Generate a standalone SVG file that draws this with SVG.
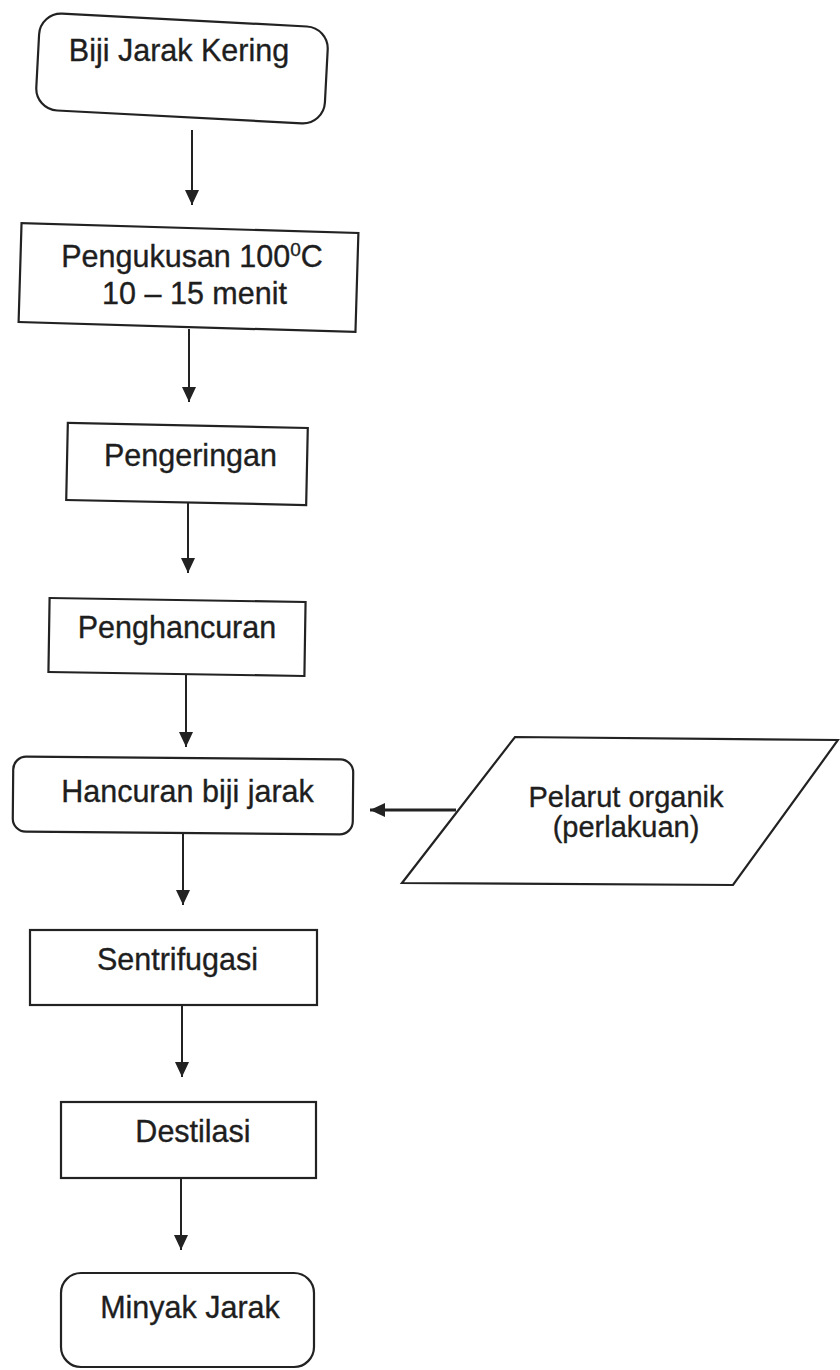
<svg xmlns="http://www.w3.org/2000/svg" width="840" height="1370" viewBox="0 0 840 1370">
<style>
.box{fill:#fff;stroke:#222;stroke-width:2.2}
.lbl{font-family:"Liberation Sans",Arial,sans-serif;font-size:30.5px;fill:#1e1e1e;stroke:#1e1e1e;stroke-width:0.35;text-anchor:middle}
.con{stroke:#222;stroke-width:2;fill:none;marker-end:url(#ah)}
</style>
<defs>
<marker id="ah" markerUnits="userSpaceOnUse" markerWidth="16" markerHeight="16" refX="15" refY="8" orient="auto">
<path d="M0,1 L15,8 L0,15 Z" fill="#222"/>
</marker>
</defs>
<rect width="840" height="1370" fill="#fff"/>
<g id="connectors">
<line class="con" x1="192" y1="130" x2="192" y2="205"/>
<line class="con" x1="189" y1="329" x2="189" y2="402"/>
<line class="con" x1="188" y1="503" x2="188" y2="573"/>
<line class="con" x1="186" y1="675" x2="186" y2="747"/>
<line class="con" x1="183" y1="833" x2="183" y2="905"/>
<line class="con" x1="182" y1="1005" x2="182" y2="1077"/>
<line class="con" x1="181" y1="1178" x2="181" y2="1250"/>
<line class="con" x1="456" y1="810" x2="370" y2="810" style="stroke-width:2.8"/>
</g>
<g id="n1">
<rect class="box" x="37.5" y="20" width="289" height="97" rx="22" transform="rotate(3 182 68.5)"/>
<text class="lbl" x="179" y="61">Biji Jarak Kering</text>
</g>
<g id="n2">
<rect class="box" x="20" y="228" width="337" height="99" transform="rotate(1.7 188.5 277.5)"/>
<text class="lbl" x="192" y="267">Pengukusan 100<tspan font-size="19" dy="-11">0</tspan><tspan dy="11">C</tspan></text>
<text class="lbl" x="194.5" y="304">10 – 15 menit</text>
</g>
<g id="n3">
<rect class="box" x="67" y="425.5" width="240" height="77" transform="rotate(1.2 187 464)"/>
<text class="lbl" x="190.5" y="466">Pengeringan</text>
</g>
<g id="n4">
<rect class="box" x="49" y="600" width="256" height="74" transform="rotate(0.9 177 637)"/>
<text class="lbl" x="177" y="638">Penghancuran</text>
</g>
<g id="n5">
<rect class="box" x="13" y="758" width="340" height="75" rx="13" transform="rotate(0.5 183 795)"/>
<text class="lbl" x="187.5" y="802">Hancuran biji jarak</text>
</g>
<g id="n6">
<polygon class="box" points="515,737 838,740 733,885 402,883"/>
<text class="lbl" x="626" y="807" style="font-size:29px">Pelarut organik</text>
<text class="lbl" x="626" y="837" style="font-size:29px">(perlakuan)</text>
</g>
<g id="n7">
<rect class="box" x="30" y="930" width="287" height="75"/>
<text class="lbl" x="177.5" y="970">Sentrifugasi</text>
</g>
<g id="n8">
<rect class="box" x="61" y="1102" width="255" height="76"/>
<text class="lbl" x="193" y="1142">Destilasi</text>
</g>
<g id="n9">
<rect class="box" x="61" y="1273" width="253" height="94" rx="20"/>
<text class="lbl" x="190" y="1318">Minyak Jarak</text>
</g>
</svg>
